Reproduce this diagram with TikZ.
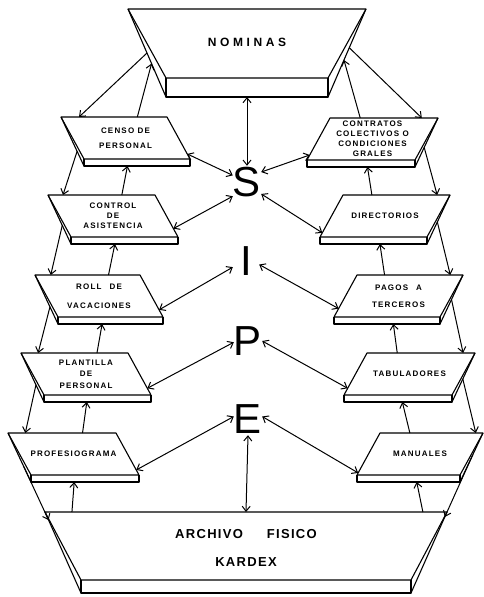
\documentclass[tikz,border=0pt]{standalone}
\usepackage{fontspec}
\setmainfont{Liberation Sans}
\newfontfamily\slabfont[LetterSpace=15]{Liberation Sans}
\newfontfamily\titlefont[LetterSpace=30]{Liberation Sans}
\newfontfamily\archfont[LetterSpace=10]{Liberation Sans}
\usepackage{tikz}
\usetikzlibrary{arrows.meta, calc, positioning}

\tikzset{
  slab/.style={line width=1.1pt, line join=round},
  slabtext/.style={align=center, inner sep=0pt, font=\slabfont\bfseries\fontsize{8}{10}\selectfont},
  titletext/.style={inner sep=0pt, font=\titlefont\bfseries\fontsize{12}{14}\selectfont},
  archtext/.style={align=center, inner sep=0pt, font=\archfont\bfseries\fontsize{13}{15}\selectfont},
  letter/.style={inner sep=0pt, minimum width=26pt, minimum height=32pt, font=\fontsize{42}{42}\selectfont},
  link/.style={line width=1pt, -{Straight Barb[length=5pt,width=8pt]}},
  both/.style={line width=1pt, {Straight Barb[length=5pt,width=8pt]}-{Straight Barb[length=5pt,width=8pt]}}
}

% name, x, y, width, text
\newcommand{\leftslab}[5]{
  \coordinate (#1-a) at (#2,#3);
  \coordinate (#1-b) at (#2+#4,#3);
  \coordinate (#1-c) at (#2+#4+23,#3+42);
  \coordinate (#1-d) at (#2+23,#3+42);
  \coordinate (#1-cc) at (#2+#4+23,#3+49);
  \coordinate (#1-dd) at (#2+23,#3+49);
  \draw[slab] (#1-a) -- (#1-b) -- (#1-c) -- (#1-d) -- cycle;
  \draw[slab] (#1-d) -- (#1-dd) -- (#1-cc) -- (#1-c);
  \draw[slab] (#1-a) -- (#1-dd);
  \node (#1) [slabtext] at ($(#1-a)!0.5!(#1-c)$) {#5};
}
\newcommand{\rightslab}[5]{
  \coordinate (#1-a) at (#2,#3);
  \coordinate (#1-b) at (#2+#4,#3);
  \coordinate (#1-c) at (#2+#4-23,#3+42);
  \coordinate (#1-d) at (#2-23,#3+42);
  \coordinate (#1-cc) at (#2+#4-23,#3+49);
  \coordinate (#1-dd) at (#2-23,#3+49);
  \draw[slab] (#1-a) -- (#1-b) -- (#1-c) -- (#1-d) -- cycle;
  \draw[slab] (#1-d) -- (#1-dd) -- (#1-cc) -- (#1-c);
  \draw[slab] (#1-b) -- (#1-cc);
  \node (#1) [slabtext] at ($(#1-a)!0.5!(#1-c)$) {#5};
}
% name, left x, right x, top y, inset, depth, thickness
\newcommand{\bigslab}[7]{
  \coordinate (#1-a) at (#2,#4);
  \coordinate (#1-b) at (#3,#4);
  \coordinate (#1-c) at (#3-#5,#4+#6);
  \coordinate (#1-d) at (#2+#5,#4+#6);
  \coordinate (#1-cc) at (#3-#5,#4+#6+#7);
  \coordinate (#1-dd) at (#2+#5,#4+#6+#7);
  \draw[slab] (#1-a) -- (#1-b) -- (#1-c) -- (#1-d) -- cycle;
  \draw[slab] (#1-d) -- (#1-dd) -- (#1-cc) -- (#1-c);
  \draw[slab] (#1-a) -- (#1-dd) (#1-b) -- (#1-cc);
}

\begin{document}
\begin{tikzpicture}[x=1pt, y=-1pt]
    \fill[white] (0,0) rectangle (484,597);
    \useasboundingbox (0,0) rectangle (484,597);

    \bigslab{nom}{128}{366}{9}{38}{69}{19}
    \node (nominas) [titletext] at (247,42) {NOMINAS};
    \bigslab{kardex}{45}{447}{512}{36}{68}{13}
    \node (archivo) [archtext] at (246,548) {ARCHIVO\hspace{24pt}FISICO\\[13pt]KARDEX};

    \leftslab{censo}{61}{117}{106}{CENSO DE\\[5pt]PERSONAL}
    \leftslab{control}{48}{195}{107}{CONTROL\\DE\\ASISTENCIA}
    \leftslab{roll}{35}{275}{105}{ROLL\hspace{8pt}DE\\[9pt]VACACIONES}
    \leftslab{plantilla}{21}{353}{107}{PLANTILLA\\[1.5pt]DE\\[1.5pt]PERSONAL}
    \leftslab{prof}{8}{433}{108}{PROFESIOGRAMA}

    \rightslab{contratos}{330}{118}{108}{CONTRATOS\\COLECTIVOS O\\CONDICIONES\\GRALES}
    \rightslab{dir}{343}{195}{107}{DIRECTORIOS}
    \rightslab{pagos}{357}{275}{106}{PAGOS\hspace{8pt}A\\[7pt]TERCEROS}
    \rightslab{tab}{367}{353}{108}{TABULADORES}
    \rightslab{man}{380}{433}{103}{MANUALES}

    \node (S) [letter] at (247,182) {S};
    \node (I) [letter] at (246,261) {I};
    \node (P) [letter] at (248,341) {P};
    \node (E) [letter] at (248,419) {E};

    \draw[both] ($(nom-dd)!0.5!(nom-cc)$) -- (S.north);
    \draw[both] ($(censo-b)!0.88!(censo-c)$) -- (S.155);
    \draw[both] ($(contratos-a)!0.88!(contratos-d)$) -- (S.35);
    \draw[both] ($(control-b)!0.8!(control-c)$) -- (S.225);
    \draw[both] ($(dir-a)!0.9!(dir-d)$) -- (S.-40);
    \draw[both] ($(roll-b)!0.83!(roll-c)$) -- (I.205);
    \draw[both] ($(pagos-a)!0.8!(pagos-d)$) -- (I.-15);
    \draw[both] ($(plantilla-b)!0.84!(plantilla-c)$) -- (P.185);
    \draw[both] ($(tab-a)!0.84!(tab-d)$) -- (P.0);
    \draw[both] ($(prof-b)!0.88!(prof-c)$) -- (E.170);
    \draw[both] ($(man-a)!0.95!(man-d)$) -- (E.10);
    \draw[both] (E.south) -- ($(kardex-a)!0.5!(kardex-b)$);

    \draw[link] ($(nom-a)!0.5!(nom-dd)$) -- ($(censo-a)!0.17!(censo-b)$);
    \draw[link] ($(censo-a)!0.72!(censo-b)$) -- ($(nom-a)!0.62!(nom-dd)$);
    \draw[link] ($(censo-a)!0.7!(censo-dd)$) -- ($(control-a)!0.14!(control-b)$);
    \draw[link] ($(control-a)!0.69!(control-b)$) -- ($(censo-dd)!0.41!(censo-cc)$);
    \draw[link] ($(control-a)!0.62!(control-dd)$) -- ($(roll-a)!0.15!(roll-b)$);
    \draw[link] ($(roll-a)!0.7!(roll-b)$) -- ($(control-dd)!0.41!(control-cc)$);
    \draw[link] ($(roll-a)!0.65!(roll-dd)$) -- ($(plantilla-a)!0.16!(plantilla-b)$);
    \draw[link] ($(plantilla-a)!0.71!(plantilla-b)$) -- ($(roll-dd)!0.42!(roll-cc)$);
    \draw[link] ($(plantilla-a)!0.65!(plantilla-dd)$) -- ($(prof-a)!0.16!(prof-b)$);
    \draw[link] ($(prof-a)!0.69!(prof-b)$) -- ($(plantilla-dd)!0.4!(plantilla-cc)$);
    \draw[link] ($(prof-a)!0.69!(prof-dd)$) -- ($(kardex-a)!0.1!(kardex-dd)$);
    \draw[link] ($(kardex-a)!0.067!(kardex-b)$) -- ($(prof-dd)!0.4!(prof-cc)$);

    \draw[link] ($(contratos-a)!0.28!(contratos-b)$) -- ($(nom-b)!0.58!(nom-cc)$);
    \draw[link] ($(nom-b)!0.44!(nom-cc)$) -- ($(contratos-a)!0.85!(contratos-b)$);
    \draw[link] ($(dir-a)!0.27!(dir-b)$) -- ($(contratos-dd)!0.56!(contratos-cc)$);
    \draw[link] ($(contratos-b)!0.6!(contratos-cc)$) -- ($(dir-a)!0.88!(dir-b)$);
    \draw[link] ($(pagos-a)!0.26!(pagos-b)$) -- ($(dir-dd)!0.56!(dir-cc)$);
    \draw[link] ($(dir-b)!0.55!(dir-cc)$) -- ($(pagos-a)!0.88!(pagos-b)$);
    \draw[link] ($(tab-a)!0.28!(tab-b)$) -- ($(pagos-dd)!0.56!(pagos-cc)$);
    \draw[link] ($(pagos-b)!0.5!(pagos-cc)$) -- ($(tab-a)!0.89!(tab-b)$);
    \draw[link] ($(man-a)!0.29!(man-b)$) -- ($(tab-dd)!0.54!(tab-cc)$);
    \draw[link] ($(tab-b)!0.53!(tab-cc)$) -- ($(man-a)!0.93!(man-b)$);
    \draw[link] ($(kardex-a)!0.94!(kardex-b)$) -- ($(man-dd)!0.58!(man-cc)$);
    \draw[link] ($(man-b)!0.45!(man-cc)$) -- ($(kardex-b)!0.06!(kardex-cc)$);
\end{tikzpicture}
\end{document}
